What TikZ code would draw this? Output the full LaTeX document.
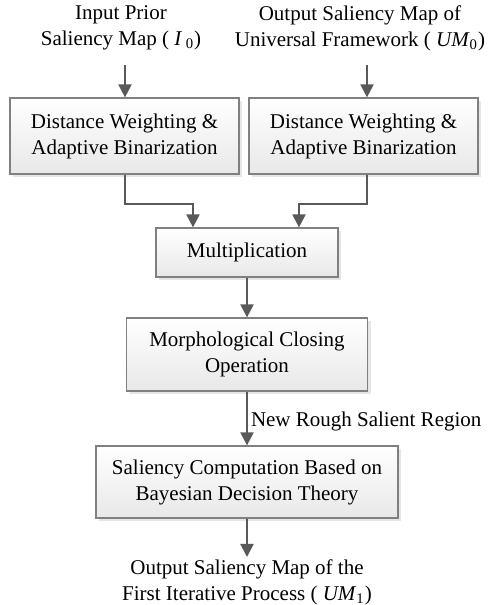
\documentclass[tikz,border=0pt]{standalone}
\usepackage{fontspec}
\setmainfont{Liberation Serif}
\usetikzlibrary{arrows.meta, positioning, shadows, calc}
\definecolor{boxline}{RGB}{128, 128, 128}
\definecolor{flowline}{RGB}{89, 89, 89}
\definecolor{boxshade}{RGB}{232, 232, 232}
\definecolor{shadowgray}{RGB}{205, 205, 205}

\begin{document}
\begin{tikzpicture}[x=0.5pt, y=-0.5pt,
    stage/.style={rectangle, draw=boxline, line width=0.6pt,
                  top color=white, bottom color=boxshade,
                  drop shadow={shadow xshift=1.5pt, shadow yshift=-1.5pt, fill=shadowgray},
                  align=center, inner sep=0pt, font=\fontsize{10.5}{13}\selectfont},
    caption/.style={align=center, inner sep=1pt, font=\fontsize{10.5}{13}\selectfont},
    flow/.style={draw=flowline, line width=1pt, -{Triangle[length=6.5pt, width=6.5pt]}}]

    \useasboundingbox (0,0) rectangle (488,605);

    % Inputs
    \node[caption] (inL) at (121, 28) {Input Prior\\Saliency Map ( \textit{I}\,\textsubscript{0})};
    \node[caption] (inR) at (360, 28) {Output Saliency Map of\\Universal Framework ( \textit{UM}\textsubscript{0})};

    % Stages
    \node[stage, minimum width=114.5pt, minimum height=38pt] (dwL) at (124.5, 136) {Distance Weighting \&\\Adaptive Binarization};
    \node[stage, minimum width=114.5pt, minimum height=38pt] (dwR) at (363.5, 136) {Distance Weighting \&\\Adaptive Binarization};
    \node[stage, minimum width=91pt, minimum height=24.5pt] (mult) at (247, 252.5) {Multiplication};
    \node[stage, minimum width=120.5pt, minimum height=36.5pt] (close) at (247, 354.5) {Morphological Closing\\Operation};
    \node[stage, minimum width=151pt, minimum height=36pt] (bayes) at (247, 482) {Saliency Computation Based on\\Bayesian Decision Theory};

    % Output
    \node[caption] (out) at (247, 582) {Output Saliency Map of the\\First Iterative Process ( \textit{UM}\textsubscript{1})};

    % Arrows
    \coordinate (sL) at (125, 65);
    \coordinate (sR) at (367, 65);
    \coordinate (jL) at (125, 204);
    \coordinate (jR) at (367, 204);
    \coordinate (mL) at (193, 228);
    \coordinate (mR) at (299, 228);

    \draw[flow] (sL) -- (sL |- dwL.north);
    \draw[flow] (sR) -- (sR |- dwR.north);
    \draw[flow] (jL |- dwL.south) -- (jL) -| (mL |- mult.north);
    \draw[flow] (jR |- dwR.south) -- (jR) -| (mR |- mult.north);
    \draw[flow] (mult) -- (close);
    \draw[flow] (close) -- node[right, pos=0.56, inner sep=1.5pt, font=\fontsize{10.5}{13}\selectfont]{New Rough Salient Region} (bayes);
    \draw[flow] (bayes) -- (out);
\end{tikzpicture}
\end{document}
